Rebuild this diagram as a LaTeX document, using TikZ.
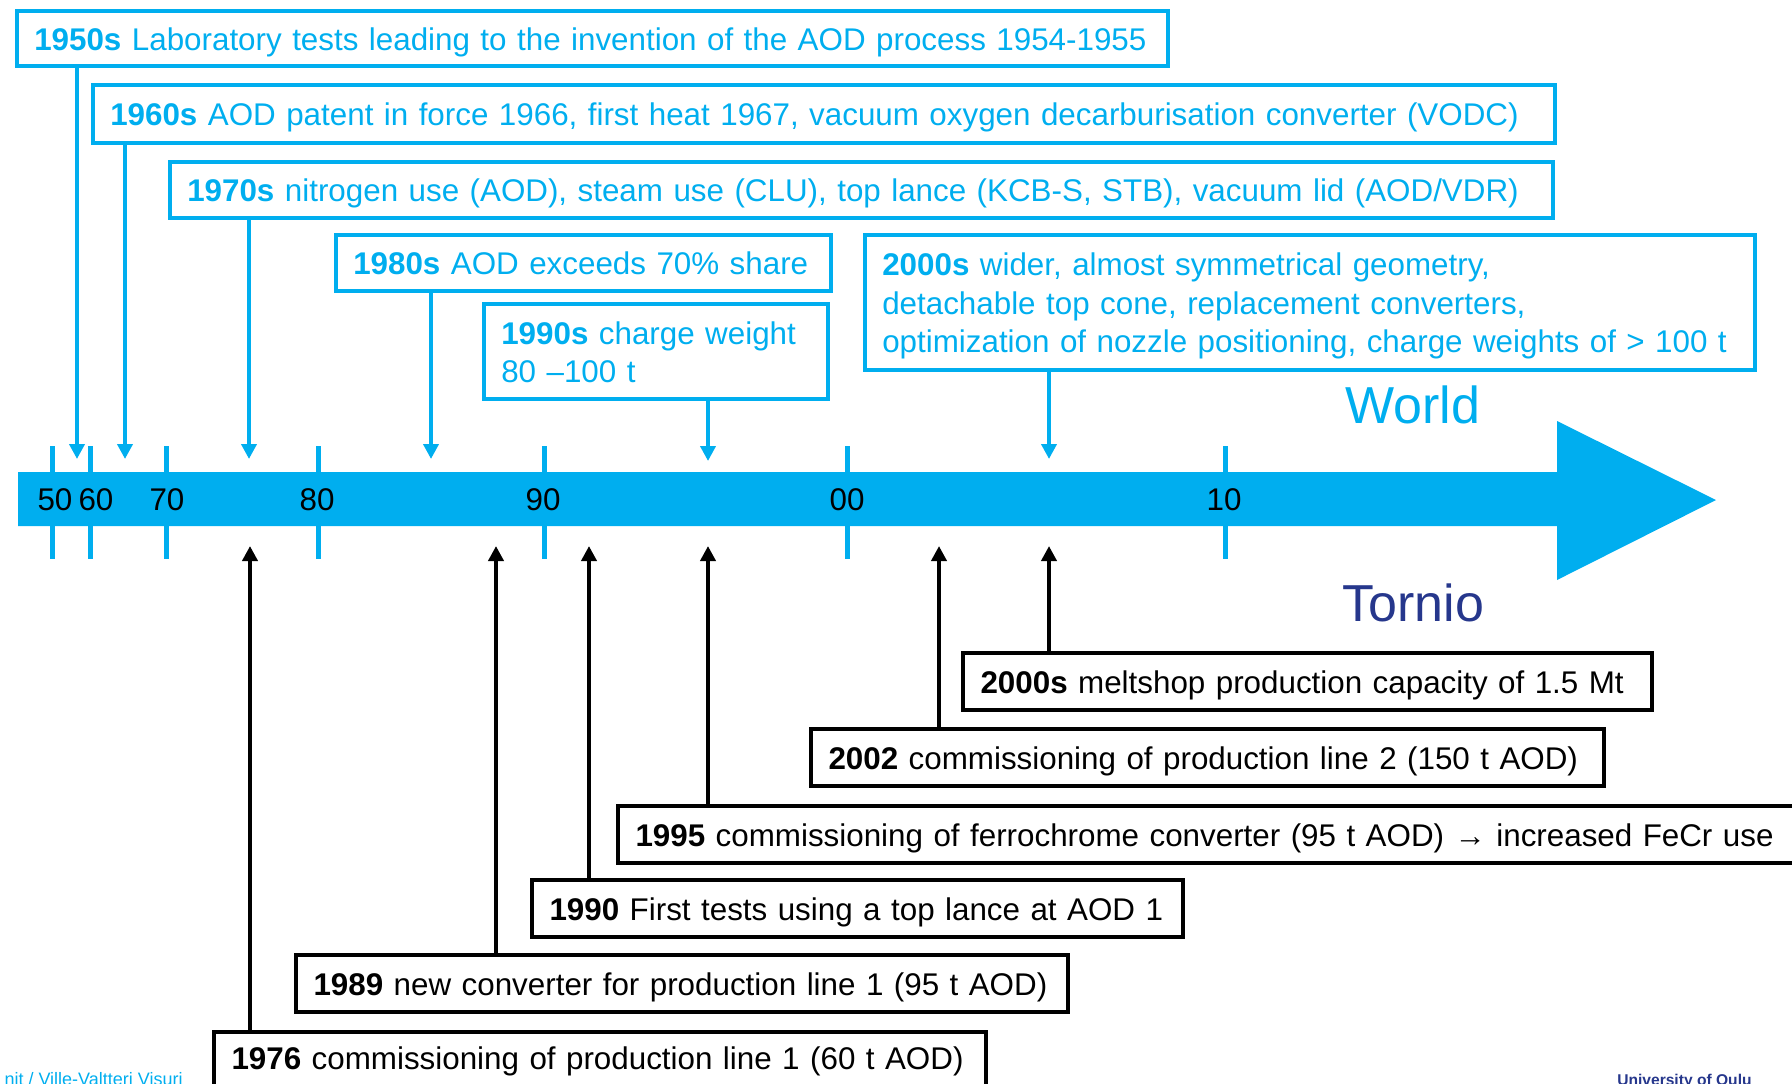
\documentclass[tikz,border=0pt]{standalone}
\usepackage{fontspec}
\setmainfont{Liberation Sans}
\usepackage{xcolor}
\usepackage{tikz}
\usetikzlibrary{arrows.meta}

\definecolor{aodblue}{RGB}{0,174,239}
\definecolor{oulublue}{RGB}{38,55,140}
\newcommand{\tstrut}{\rule[-0.22em]{0pt}{1.22em}}

\begin{document}
\begin{tikzpicture}[x=0.5pt, y=-0.5pt, >={Triangle[width=7.5pt,length=7.5pt]}, font=\fontsize{15.68}{19.25}\selectfont]

% Define block styles
\tikzstyle{wbox} = [draw=aodblue, line width=1.75pt, text=aodblue, anchor=north west, align=left, inner xsep=8.75pt, inner ysep=0pt]
\tikzstyle{tbox} = [draw=black, line width=2pt, text=black, anchor=north west, align=left, inner xsep=8.75pt, inner ysep=0pt]
\tikzstyle{decade} = [aodblue, line width=2.5pt]
\tikzstyle{year} = [inner sep=0pt, anchor=base]
\tikzstyle{warrow} = [->, aodblue, line width=2pt]
\tikzstyle{tarrow} = [->, black, line width=2pt]
\tikzstyle{region} = [inner sep=0pt, anchor=base west, font=\fontsize{26}{31}\selectfont]

\useasboundingbox (0,0) rectangle (1792,1083);
\clip (0,0) rectangle (1792,1083);

% Time axis
\draw [decade] (52,446) -- (52,559);
\draw [decade] (90,446) -- (90,559);
\draw [decade] (166,446) -- (166,559);
\draw [decade] (318,446) -- (318,559);
\draw [decade] (544,446) -- (544,559);
\draw [decade] (847,446) -- (847,559);
\draw [decade] (1225,446) -- (1225,559);
\fill [aodblue] (18,472) -- (1557,472) -- (1557,421) -- (1716,500) -- (1557,580) -- (1557,526) -- (18,526) -- cycle;

\node [year] (y50) at (55,510) {50};
\node [year] (y60) at (96,510) {60};
\node [year] (y70) at (167,510) {70};
\node [year] (y80) at (317,510) {80};
\node [year] (y90) at (543,510) {90};
\node [year] (y00) at (847,510) {00};
\node [year] (y10) at (1224,510) {10};

\node [region, text=aodblue] (world) at (1345,423) {World};
\node [region, text=oulublue] (tornio) at (1342,621) {Tornio};

% Nodes (world)
\node [wbox, text width=558pt, minimum height=27.5pt] (lab) at (15,9) {\mbox{\tstrut\textbf{1950s} Laboratory tests leading to the invention of the AOD process 1954-1955}};
\node [wbox, text width=713.5pt, minimum height=29pt] (patent) at (91,83) {\mbox{\tstrut\textbf{1960s} AOD patent in force 1966, first heat 1967, vacuum oxygen decarburisation converter (VODC)}};
\node [wbox, text width=674pt, minimum height=28pt] (nitrogen) at (168,160) {\mbox{\tstrut\textbf{1970s} nitrogen use (AOD), steam use (CLU), top lance (KCB-S, STB), vacuum lid (AOD/VDR)}};
\node [wbox, text width=230pt, minimum height=28pt] (share) at (334,233) {\mbox{\tstrut\textbf{1980s} AOD exceeds 70\% share}};
\node [wbox, text width=154.5pt, minimum height=47.5pt] (weight) at (482,302) {\mbox{\tstrut\textbf{1990s} charge weight}\\\mbox{80 –100 t\tstrut}};
\node [wbox, text width=427.5pt, minimum height=67.5pt] (geometry) at (863,233) {\mbox{\tstrut\textbf{2000s} wider, almost symmetrical geometry,}\\\mbox{detachable top cone, replacement converters,}\\\mbox{optimization of nozzle positioning, charge weights of > 100 t\tstrut}};

% Nodes (Tornio)
\node [tbox, text width=327pt, minimum height=28.5pt] (meltshop) at (961,651) {\mbox{\tstrut\textbf{2000s} meltshop production capacity of 1.5 Mt}};
\node [tbox, text width=379pt, minimum height=28.5pt] (line2) at (809,727) {\mbox{\tstrut\textbf{2002} commissioning of production line 2 (150 t AOD)}};
\node [tbox, text width=594.5pt, minimum height=28.5pt] (fecr) at (616,804) {\mbox{\tstrut\textbf{1995} commissioning of ferrochrome converter (95 t AOD) → increased FeCr use}};
\node [tbox, text width=308pt, minimum height=28.5pt] (lance) at (530,878) {\mbox{\tstrut\textbf{1990} First tests using a top lance at AOD 1}};
\node [tbox, text width=368.5pt, minimum height=28.5pt] (conv89) at (294,953) {\mbox{\tstrut\textbf{1989} new converter for production line 1 (95 t AOD)}};
\node [tbox, text width=368.5pt, minimum height=30pt] (line1) at (212,1030) {\mbox{\rule[-0.5em]{0pt}{1.5em}\textbf{1976} commissioning of production line 1 (60 t AOD)}};

% Footer
\node [inner sep=0pt, anchor=base east, text=aodblue, font=\fontsize{9}{11}\selectfont] (author) at (183,1085) {nit / Ville-Valtteri Visuri};
\node [inner sep=0pt, anchor=base east, text=oulublue, font=\fontsize{7.8}{9}\selectfont\bfseries] (uni) at (1752,1085) {University of Oulu};

% Arrow tips on the axis
\coordinate (labtip) at (77,459);
\coordinate (patenttip) at (125,459);
\coordinate (nitrogentip) at (249,459);
\coordinate (sharetip) at (431,459);
\coordinate (weighttip) at (708,461);
\coordinate (geometrytip) at (1049,459);
\coordinate (line1tip) at (250,546);
\coordinate (conv89tip) at (496,546);
\coordinate (lancetip) at (589,546);
\coordinate (fecrtip) at (708,546);
\coordinate (line2tip) at (939,546);
\coordinate (meltshoptip) at (1049,546);

% Connections
\draw [warrow] (lab.south -| labtip) -- (labtip);
\draw [warrow] (patent.south -| patenttip) -- (patenttip);
\draw [warrow] (nitrogen.south -| nitrogentip) -- (nitrogentip);
\draw [warrow] (share.south -| sharetip) -- (sharetip);
\draw [warrow] (weight.south -| weighttip) -- (weighttip);
\draw [warrow] (geometry.south -| geometrytip) -- (geometrytip);
\draw [tarrow] (line1.north -| line1tip) -- (line1tip);
\draw [tarrow] (conv89.north -| conv89tip) -- (conv89tip);
\draw [tarrow] (lance.north -| lancetip) -- (lancetip);
\draw [tarrow] (fecr.north -| fecrtip) -- (fecrtip);
\draw [tarrow] (line2.north -| line2tip) -- (line2tip);
\draw [tarrow] (meltshop.north -| meltshoptip) -- (meltshoptip);

\end{tikzpicture}
\end{document}
